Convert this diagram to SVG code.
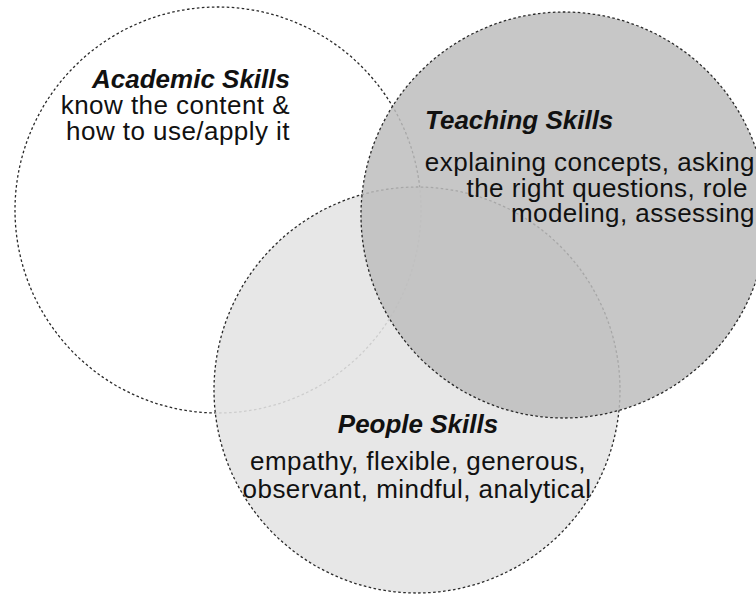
<svg xmlns="http://www.w3.org/2000/svg" width="756" height="596" viewBox="0 0 756 596">
  <style>
    .ring { stroke: #2a2a2a; stroke-width: 1.3; stroke-dasharray: 2.6 2.4; }
    .head { font-family: "Liberation Sans", Arial, sans-serif; font-weight: bold; font-style: italic; font-size: 26px; fill: #111; }
    .body { font-family: "Liberation Sans", Arial, sans-serif; font-size: 26px; letter-spacing: 0.45px; fill: #111; }
  </style>
  <rect width="756" height="596" fill="#ffffff"/>
  <g id="academic">
    <circle class="ring" cx="218" cy="210" r="203" fill="#ffffff"/>
    <text class="head" x="290" y="88" text-anchor="end">Academic Skills</text>
    <text class="body" x="290" y="114" text-anchor="end">know the content &amp;</text>
    <text class="body" x="290" y="140" text-anchor="end">how to use/apply it</text>
  </g>
  <g id="people">
    <circle class="ring" cx="417" cy="390" r="203" fill="#e4e4e4" fill-opacity="0.88"/>
    <text class="head" x="418" y="433" text-anchor="middle">People Skills</text>
    <text class="body" x="418" y="470" text-anchor="middle">empathy, flexible, generous,</text>
    <text class="body" x="417" y="498" text-anchor="middle">observant, mindful, analytical</text>
  </g>
  <g id="teaching">
    <circle class="ring" cx="564" cy="215" r="203" fill="#bdbdbd" fill-opacity="0.85"/>
    <text class="head" x="425" y="129">Teaching Skills</text>
    <text class="body" x="755" y="171" text-anchor="end">explaining concepts, asking</text>
    <text class="body" x="748" y="197" text-anchor="end">the right questions, role</text>
    <text class="body" x="755" y="222" text-anchor="end">modeling, assessing</text>
  </g>
  <g id="connectors"/>
</svg>
